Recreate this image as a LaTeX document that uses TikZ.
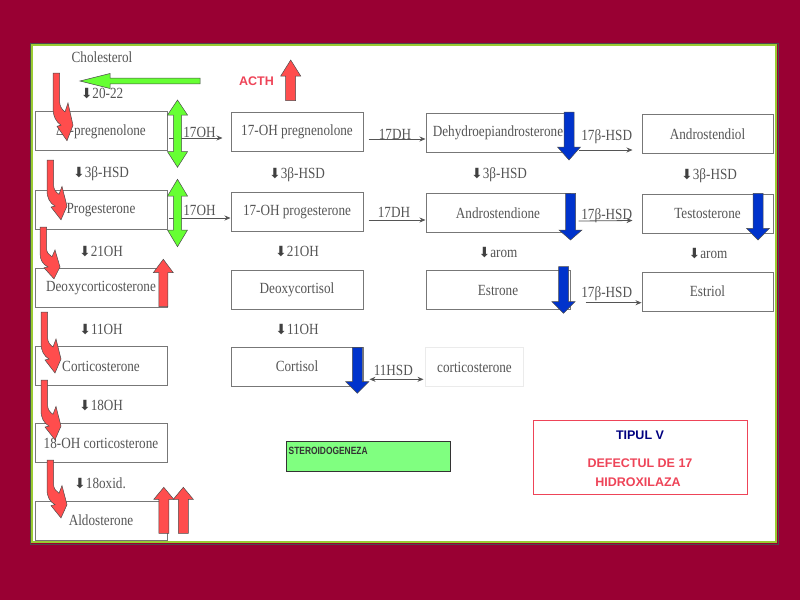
\documentclass[tikz,border=0pt]{standalone}
\usepackage{fontspec}
\setmainfont{Liberation Serif}[FakeStretch=0.85]
\newfontfamily\arialfont{Liberation Sans}
\newfontfamily\narrowfont{Liberation Sans}[FakeStretch=0.8]
\newfontfamily\dejafont{DejaVu Sans}
\usetikzlibrary{arrows.meta}
\definecolor{maroonbg}{HTML}{990033}
\definecolor{framegreen}{HTML}{99CC33}
\definecolor{scan}{HTML}{555555}
\definecolor{blockred}{HTML}{FF4D4D}
\definecolor{blockblue}{HTML}{0033CC}
\definecolor{blockgreen}{HTML}{66FF33}
\definecolor{boxgreen}{HTML}{80FF80}
\definecolor{labelred}{HTML}{EE4458}
\definecolor{tipblue}{HTML}{000080}
\newcommand{\stepdown}{{\dejafont\fontsize{14}{14}\selectfont\color{black!75}⬇}}
% vertical block arrow: style, x, tail y, head base y, tip y, half shaft, half head
\newcommand{\vblock}[7]{\filldraw[#1] (#2-#6,#3) -- (#2-#6,#4) -- (#2-#7,#4) -- (#2,#5) -- (#2+#7,#4) -- (#2+#6,#4) -- (#2+#6,#3) -- cycle;}
% double headed vertical block arrow: x, top tip, top base, bottom base, bottom tip
\newcommand{\vdouble}[5]{\filldraw[greenblk] (#1-4.2,#3) -- (#1-10,#3) -- (#1,#2) -- (#1+10,#3) -- (#1+4.2,#3) -- (#1+4.2,#4) -- (#1+10,#4) -- (#1,#5) -- (#1-10,#4) -- (#1-4.2,#4) -- cycle;}
% red hook arrow: x, y of shaft top, vertical scale
\newcommand{\hookarrow}[3]{\filldraw[redblk, shift={(#1,#2)}, yscale=#3] (0,0) -- (6.5,0) -- (6.5,25) .. controls (6.5,30) and (9,33) .. (12,35) -- (15,27) -- (20,47) -- (14,61) -- (4,48) -- (8,47) .. controls (3,44) and (0,39) .. (0,31) -- cycle;}
\tikzset{
  box/.style={draw=scan!80, line width=1pt, minimum height=39, text=scan, font=\fontsize{15.5}{17}\selectfont, inner sep=0pt},
  stepl/.style={text=scan, font=\fontsize{15.5}{17}\selectfont, inner sep=0pt},
  conn/.style={draw=scan, line width=.8pt, -{Stealth[length=6pt,width=5pt]}},
  redblk/.style={fill=blockred, draw=black!70, line width=.5pt},
  blueblk/.style={fill=blockblue, draw=black!70, line width=.5pt},
  greenblk/.style={fill=blockgreen, draw=black!70, line width=.5pt},
  sans/.style={font=\arialfont\bfseries\fontsize{12.5}{14}\selectfont, inner sep=0pt}
}
\begin{document}
\begin{tikzpicture}[x=1pt, y=-1pt]
\fill[maroonbg] (0,0) rectangle (800,600);
\draw[black!70, line width=.6] (30.2,43.2) rectangle (777.8,543.8);
\filldraw[fill=white, draw=framegreen, line width=2.5] (32,45) rectangle (776,542);

% pathway boxes
\node[stepl] (chol) at (102,57) {Cholesterol};
\node[box, minimum width=132] (preg) at (101,131) {Δ\textsuperscript{5}-pregnenolone};
\node[box, minimum width=132] (prog) at (101,210) {Progesterone};
\node[box, minimum width=132] (doc) at (101,288) {Deoxycorticosterone};
\node[box, minimum width=132] (cortico) at (101,366) {Corticosterone};
\node[box, minimum width=132] (ohcortico) at (101,443) {18-OH corticosterone};
\node[box, minimum width=132] (aldo) at (101,520.5) {Aldosterone};

\node[box, minimum width=132] (ohpreg) at (297,132) {17-OH pregnenolone};
\node[box, minimum width=132] (ohprog) at (297,212) {17-OH progesterone};
\node[box, minimum width=132] (doxcortisol) at (297,289.5) {Deoxycortisol};
\node[box, minimum width=132] (cortisol) at (297,366.5) {Cortisol};

\node[box, minimum width=144] (dhea) at (498,133) {Dehydroepiandrosterone};
\node[box, minimum width=144] (andione) at (498,213) {Androstendione};
\node[box, minimum width=144] (estrone) at (498,290) {Estrone};
\node[box, minimum width=98, draw=black!8] (corticob) at (474.5,367) {corticosterone};

\node[box, minimum width=131] (andiol) at (707.5,134) {Androstendiol};
\node[box, minimum width=131] (testo) at (707.5,213.5) {Testosterone};
\node[box, minimum width=131] (estriol) at (707.5,291.5) {Estriol};

% enzymes down the columns
\node[stepl] (s2022) at (102,94) {\stepdown20-22};
\node[stepl] (shsda) at (101,173.5) {\stepdown3β-HSD};
\node[stepl] (shsdb) at (297,174.5) {\stepdown3β-HSD};
\node[stepl] (shsdc) at (499,175) {\stepdown3β-HSD};
\node[stepl] (shsdd) at (709,176) {\stepdown3β-HSD};
\node[stepl] (s21a) at (101,252) {\stepdown21OH};
\node[stepl] (s21b) at (297,252) {\stepdown21OH};
\node[stepl] (sarom) at (498,253) {\stepdown arom};
\node[stepl] (saromb) at (708,254) {\stepdown arom};
\node[stepl] (s11a) at (101,329.5) {\stepdown11OH};
\node[stepl] (s11b) at (297,330) {\stepdown11OH};
\node[stepl] (s18) at (101,406) {\stepdown18OH};
\node[stepl] (s18ox) at (100,483) {\stepdown18oxid.};

% enzymes across the rows
\draw[conn] ([xshift=1pt,yshift=-7pt]preg.east) -- ([xshift=-8pt,yshift=-6pt]ohpreg.west);
\draw[conn] ([xshift=5pt,yshift=-7pt]ohpreg.east) -- ([yshift=-6pt]dhea.west);
\draw[conn] ([xshift=8pt,yshift=-17pt]dhea.east) -- ([xshift=-9pt,yshift=-16pt]andiol.west);
\draw[conn] ([xshift=1pt,yshift=-8pt]prog.east) -- ([yshift=-6pt]ohprog.west);
\draw[conn] ([xshift=5pt,yshift=-8pt]ohprog.east) -- ([yshift=-7pt]andione.west);
\draw[conn] ([xshift=8pt,yshift=-8pt]andione.east) -- ([xshift=-9pt,yshift=-7pt]testo.west);
\draw[conn] ([xshift=15pt,yshift=-12.7pt]estrone.east) -- ([yshift=-11.2pt]estriol.west);
\draw[conn, {Stealth[length=6pt,width=5pt]}-{Stealth[length=6pt,width=5pt]}] ([xshift=6pt,yshift=-12.8pt]cortisol.east) -- ([xshift=-1.5pt,yshift=-12.3pt]corticob.west);
\node[stepl] (e17a) at (199.5,132) {17OH};
\node[stepl] (e17b) at (199.5,210) {17OH};
\node[stepl] (edha) at (395,134) {17DH};
\node[stepl] (edhb) at (394,212.7) {17DH};
\node[stepl] (ehsda) at (606.7,136.7) {17β-HSD};
\node[stepl] (ehsdb) at (606.7,216) {17β-HSD};
\node[stepl] (ehsdc) at (606.7,293.3) {17β-HSD};
\node[stepl] (e11) at (393.3,370) {11HSD};

% green arrows
\filldraw[greenblk] (200,78.2) -- (110,78.2) -- (110,73.5) -- (80,81) -- (110,88.5) -- (110,83.8) -- (200,83.8) -- cycle;
\vdouble{177.5}{100}{115}{151.7}{167.3}
\vdouble{177.5}{179.3}{196}{230}{246.7}

% red arrows
\node[sans, text=labelred] (acth) at (256.5,81) {ACTH};
\vblock{redblk}{290.7}{100.7}{76}{60}{5}{10}
\vblock{redblk}{163.3}{306.7}{272.7}{259.3}{4.5}{10}
\vblock{redblk}{163.8}{533.3}{499.3}{487.3}{5}{10}
\vblock{redblk}{183.3}{533.3}{499.3}{487.3}{5}{10}
\hookarrow{53}{73}{1.11}
\hookarrow{47}{160}{0.98}
\hookarrow{40}{227}{0.85}
\hookarrow{41}{312}{1.0}
\hookarrow{41}{380}{0.98}
\hookarrow{47}{460}{0.95}

% blue arrows
\foreach \cx/\ytop/\ybase/\ytip in {569/112/147/160, 570.5/193.3/230/240, 563.5/266.7/301.7/313.3, 758/193.3/228.3/240, 357.3/347.3/381.7/393.3}
  {\vblock{blueblk}{\cx}{\ytop}{\ybase}{\ytip}{5}{11.5}}

% notes
\node[draw=black!80, fill=boxgreen, line width=.8pt, minimum width=164.7, minimum height=29.3, inner sep=0pt] (sterbox) at (368.3,456.3) {};
\node[font=\narrowfont\bfseries\fontsize{10.5}{12}\selectfont, inner sep=0pt, anchor=west, text=black!80] (stertext) at (288.5,450.5) {STEROIDOGENEZA};
\node[draw=labelred, line width=.8pt, minimum width=214, minimum height=74.3, inner sep=0pt] (tipbox) at (640.3,457.2) {};
\node[sans, text=tipblue] (tipul) at (640,435) {TIPUL V};
\node[sans, text=labelred] (defect) at (640,462.7) {DEFECTUL DE 17};
\node[sans, text=labelred] (hidrox) at (638,481.7) {HIDROXILAZA};
\end{tikzpicture}
\end{document}
